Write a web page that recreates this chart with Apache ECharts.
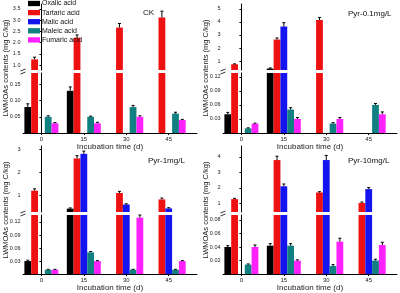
<!DOCTYPE html>
<html>
<head>
<meta charset="utf-8">
<script src="https://cdn.jsdelivr.net/npm/echarts@6/dist/echarts.min.js"></script>
<style>
html, body { margin: 0; padding: 0; background: #fff; }
#chart { width: 400px; height: 293px; }
</style>
</head>
<body>
<div id="chart"></div>
<script>
var days = [0, 15, 30, 45];
var acids = ['Oxalic acid', 'Tartaric acid', 'Malic acid', 'Maleic acid', 'Fumaric acid'];
var colors = ['#000000', '#ee1111', '#1414ee', '#128080', '#ff22ff'];

// rows follow acids: oxalic, tartaric, malic, maleic, fumaric
var ckVals = [[0.08, 0.13, 0, 0], [1.25, 2.22, 2.67, 3.12], [0, 0, 0, 0], [0.05, 0.05, 0.08, 0.06], [0.03, 0.03, 0.05, 0.04]];
var ckErr = [[0.01, 0.012, 0, 0], [0.1, 0.12, 0.18, 0.28], [0, 0, 0, 0], [0.003, 0.002, 0.005, 0.004], [0.002, 0.003, 0.003, 0.002]];
var p01Vals = [[0.04, 0.42, 0, 0], [0.75, 2.65, 4.15, 0], [0, 3.65, 0, 0], [0.01, 0.05, 0.02, 0.06], [0.02, 0.03, 0.03, 0.04]];
var p01Err = [[0.004, 0.05, 0, 0], [0.03, 0.12, 0.2, 0], [0, 0.3, 0, 0], [0.001, 0.004, 0.002, 0.003], [0.001, 0.003, 0.003, 0.005]];
var p1Vals = [[0.03, 0.42, 0, 0], [1.2, 2.6, 1.1, 0.82], [0, 2.8, 0.6, 0.43], [0.01, 0.05, 0.01, 0.01], [0.01, 0.03, 0.13, 0.03]];
var p1Err = [[0.002, 0.03, 0, 0], [0.08, 0.12, 0.07, 0.06], [0, 0.12, 0.03, 0.03], [0.001, 0.002, 0.001, 0.001], [0.001, 0.001, 0.006, 0.001]];
var p10Vals = [[0.04, 0.042, 0, 0], [1.27, 3.8, 1.7, 1.02], [0, 2.1, 3.8, 1.92], [0.014, 0.042, 0.012, 0.02], [0.04, 0.02, 0.048, 0.043]];
var p10Err = [[0.002, 0.003, 0, 0], [0.05, 0.25, 0.05, 0.06], [0, 0.15, 0.3, 0.1], [0.001, 0.003, 0.002, 0.002], [0.003, 0.001, 0.005, 0.004]];

var ckUpTicks = [1.0, 1.5, 2.0, 2.5, 3.0, 3.5], ckLoTicks = [0.05, 0.10, 0.15];
var p01UpTicks = [1, 2, 3, 4, 5], p01LoTicks = [0.03, 0.06, 0.09, 0.12];
var p1UpTicks = [1, 2, 3], p1LoTicks = [0.03, 0.06, 0.09, 0.12];
var p10UpTicks = [1, 2, 3, 4], p10LoTicks = [0.02, 0.04, 0.06, 0.08];

var panels = [
  { name: 'CK', vals: ckVals, errs: ckErr, x: 23, y: 0, upMin: 0.777, upMax: 3.72, loMax: 0.185, upTicks: ckUpTicks, loTicks: ckLoTicks, upDec: 1, loDec: 2, tx: 143, ty: 9 },
  { name: 'Pyr-0.1mg/L', vals: p01Vals, errs: p01Err, x: 223, y: 0, upMin: 0.31, upMax: 5.38, loMax: 0.128, upTicks: p01UpTicks, loTicks: p01LoTicks, upDec: 0, loDec: 2, tx: 348, ty: 10 },
  { name: 'Pyr-1mg/L', vals: p1Vals, errs: p1Err, x: 23, y: 142, upMin: 0.274, upMax: 3.14, loMax: 0.136, upTicks: p1UpTicks, loTicks: p1LoTicks, upDec: 0, loDec: 2, tx: 148, ty: 157 },
  { name: 'Pyr-10mg/L', vals: p10Vals, errs: p10Err, x: 223, y: 142, upMin: 0.436, upMax: 4.71, loMax: 0.0873, upTicks: p10UpTicks, loTicks: p10LoTicks, upDec: 0, loDec: 2, tx: 348, ty: 157 }
];

var barW = 6.8;
var font = 'Liberation Sans, Arial, sans-serif';
var lineStyle = { color: '#000', width: 1 };

function errRender(params, api) {
  var x = api.value(0), v = api.value(1), e = api.value(2), k = api.value(3);
  var base = api.coord([x, v]), top = api.coord([x, v + e]);
  var cx = base[0] + (k - 2) * barW;
  return {
    type: 'group',
    children: [
      { type: 'line', shape: { x1: cx, y1: base[1], x2: cx, y2: top[1] }, style: { stroke: '#000', lineWidth: 1 } },
      { type: 'line', shape: { x1: cx - 1.5, y1: top[1], x2: cx + 1.5, y2: top[1] }, style: { stroke: '#000', lineWidth: 1 } }
    ]
  };
}

var grids = [], xAxes = [], yAxes = [], series = [], graphics = [];

panels.forEach(function (p) {
  [0, 1].forEach(function (part) {
    var gi = grids.length;
    var lower = part === 1;
    grids.push({ left: p.x, width: 174, top: lower ? p.y + 73 : p.y + 4, height: lower ? 60 : 66 });
    xAxes.push({
      type: 'value', gridIndex: gi, min: -6.5, max: 55, show: lower,
      axisLine: { lineStyle: lineStyle },
      axisTick: { customValues: days, length: 2, lineStyle: lineStyle },
      axisLabel: { customValues: days, fontSize: 6, margin: 3, color: '#222', fontFamily: font },
      splitLine: { show: false },
      name: lower ? 'Incubation time (d)' : '', nameLocation: 'middle', nameGap: 9,
      nameTextStyle: { fontSize: 8, color: '#222', fontFamily: font }
    });
    var ticks = lower ? p.loTicks : p.upTicks;
    var dec = lower ? p.loDec : p.upDec;
    yAxes.push({
      type: 'value', gridIndex: gi, min: lower ? 0 : p.upMin, max: lower ? p.loMax : p.upMax,
      axisLine: { show: true, lineStyle: lineStyle },
      axisTick: { show: true, customValues: ticks, length: 2, lineStyle: lineStyle },
      axisLabel: {
        customValues: ticks, fontSize: 5.5, margin: 2.5, color: '#222', fontFamily: font,
        formatter: function (v) { return Number(v).toFixed(dec); }
      },
      splitLine: { show: false }
    });
    acids.forEach(function (a, k) {
      series.push({
        type: 'bar', name: a, xAxisIndex: gi, yAxisIndex: gi,
        barWidth: barW, barGap: '0%', silent: true,
        itemStyle: { color: colors[k] },
        data: days.map(function (d, j) {
          var v = p.vals[k][j];
          if (!v || (!lower && v < p.upMin)) return [d, null];
          return [d, v];
        })
      });
    });
    var eData = [];
    acids.forEach(function (a, k) {
      days.forEach(function (d, j) {
        var v = p.vals[k][j], e = p.errs[k][j];
        if (!v) return;
        if (lower ? v <= p.loMax : v >= p.upMin) eData.push([d, v, e, k]);
      });
    });
    series.push({ type: 'custom', xAxisIndex: gi, yAxisIndex: gi, data: eData, renderItem: errRender, silent: true, z: 5 });
  });

  // panel label
  graphics.push({ type: 'text', x: p.tx, y: p.ty, style: { text: p.name, fill: '#111', font: '8px ' + font } });
  // y axis title
  graphics.push({
    type: 'text', x: p.x - 17, y: p.y + 68, rotation: Math.PI / 2,
    style: { text: 'LWMOAs contents (mg C/kg)', fill: '#222', font: '7.5px ' + font, align: 'center', verticalAlign: 'middle' }
  });
  // break marks on the y axis
  var by = p.y + 71.5;
  graphics.push({ type: 'line', shape: { x1: p.x - 2.5, y1: by - 0.5, x2: p.x + 2.5, y2: by - 2.5 }, style: { stroke: '#000', lineWidth: 0.8 } });
  graphics.push({ type: 'line', shape: { x1: p.x - 2.5, y1: by + 2.5, x2: p.x + 2.5, y2: by + 0.5 }, style: { stroke: '#000', lineWidth: 0.8 } });
});

var chart = echarts.init(document.getElementById('chart'));
chart.setOption({
  animation: false,
  textStyle: { fontFamily: font },
  legend: {
    data: acids, orient: 'vertical', left: 28, top: 0, padding: 0, icon: 'rect',
    itemWidth: 12, itemHeight: 5.3, itemGap: 2.1, selectedMode: false,
    textStyle: { fontSize: 7, lineHeight: 5.3, color: '#111', fontFamily: font, padding: [0, 0, 0, -3] }
  },
  grid: grids,
  xAxis: xAxes,
  yAxis: yAxes,
  series: series,
  graphic: graphics
});
</script>
</body>
</html>
